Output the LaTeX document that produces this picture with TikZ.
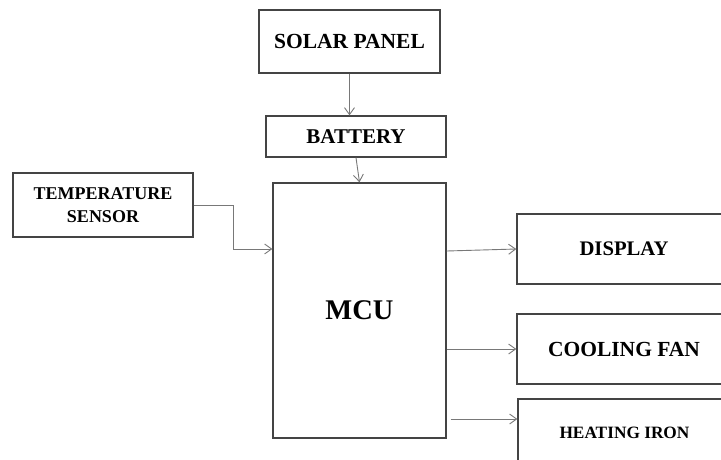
\documentclass[tikz,border=0pt]{standalone}
\usepackage{fontspec}
\setmainfont{Liberation Serif}
\usepackage{tikz}
\usetikzlibrary{arrows.meta, calc}
\definecolor{corBorda}{RGB}{ 68,  68,  68}
\definecolor{corLinha}{RGB}{120, 120, 120}

\tikzset{
  bloco/.style={draw=corBorda, line width=1.3pt, inner sep=2pt,
                align=center, font=\bfseries},
  ligacao/.style={draw=corLinha, line width=0.9pt,
                  -{Straight Barb[length=7pt, width=10pt]}}
}

\begin{document}
\begin{tikzpicture}[x=1pt, y=-1pt]

  \useasboundingbox (0,0) rectangle (721,459);

  %% ================================================================
  %%  ALIMENTACAO — painel solar e bateria
  %% ================================================================
  \node[bloco, minimum width=181pt, minimum height=63pt,
        font=\bfseries\fontsize{21.5}{24}\selectfont]
        (solar) at (349.5, 41.5) {SOLAR PANEL};
  \node[bloco, minimum width=180pt, minimum height=41pt,
        font=\bfseries\fontsize{21}{24}\selectfont]
        (bateria) at (356, 136.5) {BATTERY};

  %% ================================================================
  %%  ENTRADA E MICROCONTROLADOR
  %% ================================================================
  \node[bloco, minimum width=180pt, minimum height=64pt,
        font=\bfseries\fontsize{18}{22.5}\selectfont]
        (sensor) at (103, 205) {TEMPERATURE\\SENSOR};
  \node[bloco, minimum width=173pt, minimum height=255pt,
        font=\bfseries\fontsize{28.5}{32}\selectfont]
        (mcu) at (359.5, 310.5) {MCU};

  %% ================================================================
  %%  SAIDAS (cortadas pela borda direita da figura)
  %% ================================================================
  \node[bloco, minimum width=214pt, minimum height=70pt,
        font=\bfseries\fontsize{20.7}{24}\selectfont]
        (display) at (624, 249) {DISPLAY};
  \node[bloco, minimum width=214pt, minimum height=70pt,
        font=\bfseries\fontsize{21.5}{24}\selectfont]
        (ventoinha) at (624, 349) {COOLING FAN};
  \node[bloco, minimum width=213pt, minimum height=67pt,
        font=\bfseries\fontsize{17.3}{20}\selectfont]
        (ferro) at (624.5, 432.5) {HEATING IRON};

  %% ================================================================
  %%  LIGACOES
  %% ================================================================
  \draw[ligacao] (solar.south) -- (solar.south |- bateria.north);
  \draw[ligacao] (bateria.south) -- (mcu.north);

  % sensor -> MCU em degrau
  \draw[ligacao] (sensor.east) -- ++(40,0)
        |- ($(mcu.north west)!0.26!(mcu.south west)$);

  % MCU -> saidas
  \draw[ligacao] ([yshift=-2pt]mcu.east |- display.west) -- (display.west);
  \draw[ligacao] (mcu.east |- ventoinha.west) -- (ventoinha.west);
  \draw[ligacao] ([xshift=4pt]mcu.east |- 0,419)
        -- (ferro.north west |- 0,419);

\end{tikzpicture}
\end{document}
